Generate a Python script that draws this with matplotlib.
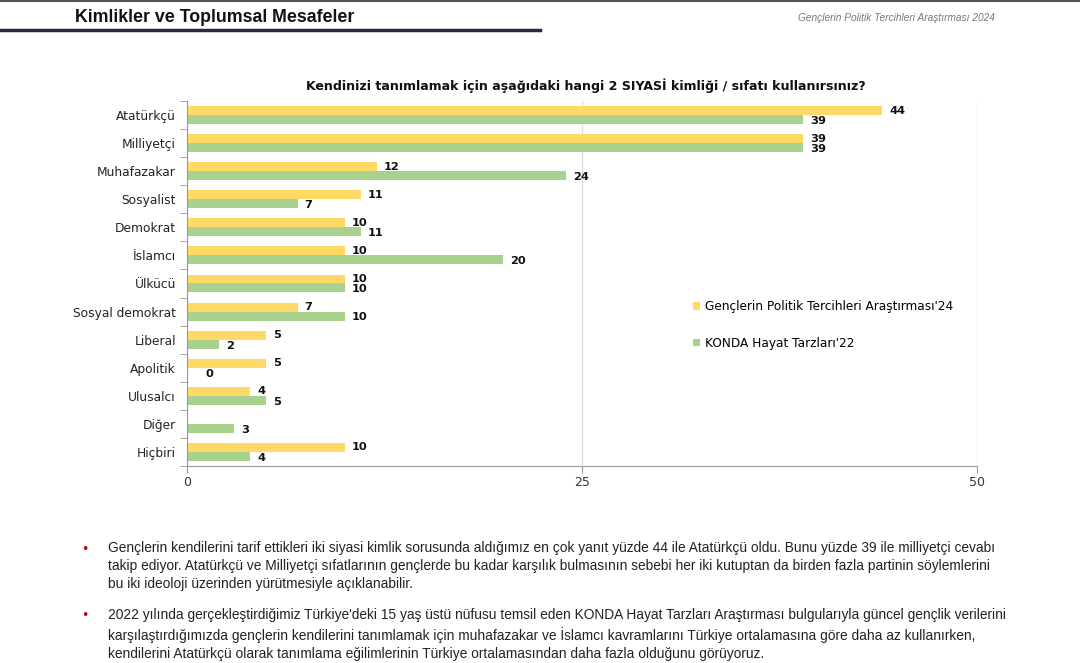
import numpy as np
import matplotlib.pyplot as plt
from matplotlib.lines import Line2D

# --- donnees ---
kategoriler = ['Atatürkçü', 'Milliyetçi', 'Muhafazakar', 'Sosyalist', 'Demokrat',
               'İslamcı', 'Ülkücü', 'Sosyal demokrat', 'Liberal', 'Apolitik',
               'Ulusalcı', 'Diğer', 'Hiçbiri']
genclik_24 = [44, 39, 12, 11, 10, 10, 10, 7, 5, 5, 4, None, 10]
konda_22 = [39, 39, 24, 7, 11, 20, 10, 10, 2, 0, 5, 3, 4]
seri_adlari = ["Gençlerin Politik Tercihleri Araştırması'24", "KONDA Hayat Tarzları'22"]
x_ticks = [0, 25, 50]

SARI = '#FFD966'
YESIL = '#A9D18E'

fig = plt.figure(figsize=(10.8, 6.63), dpi=100)

# --- en-tete ---
fig.add_artist(Line2D([0, 1], [1 - 1 / 663, 1 - 1 / 663], color='#555555', lw=1.5))
fig.text(75 / 1080, 1 - 18 / 663, 'Kimlikler ve Toplumsal Mesafeler', fontsize=12.8,
         fontweight='bold', family='Liberation Sans', va='center', color='#111111')
fig.add_artist(Line2D([0, 540 / 1080], [1 - 30 / 663, 1 - 30 / 663], color='#262b45', lw=2.5))
fig.text(995 / 1080, 1 - 18 / 663, 'Gençlerin Politik Tercihleri Araştırması 2024', fontsize=7.3,
         style='italic', family='Liberation Sans', ha='right', va='center', color='#777777')

# --- graphique ---
ax = fig.add_axes([187 / 1080, 1 - 466 / 663, 790 / 1080, 365 / 663])
n = len(kategoriler)
y = np.arange(n)
h = 0.32
g_vals = np.array([v if v is not None else 0 for v in genclik_24], dtype=float)
k_vals = np.array(konda_22, dtype=float)
ax.barh(y - h / 2, g_vals, height=h, color=SARI, label=seri_adlari[0])
ax.barh(y + h / 2, k_vals, height=h, color=YESIL, label=seri_adlari[1])

for i in range(n):
    if genclik_24[i] is not None:
        ax.text(g_vals[i] + 0.45, y[i] - h / 2, str(genclik_24[i]), va='center', ha='left',
                fontsize=8.2, fontweight='bold', color='#111111')
    ax.text(k_vals[i] + 0.45 + (0.7 if k_vals[i] == 0 else 0), y[i] + h / 2 + 0.05,
            str(konda_22[i]), va='center', ha='left', fontsize=8.2, fontweight='bold', color='#111111')

ax.set_xlim(0, 50)
ax.set_ylim(n - 0.5, -0.5)
ax.set_xticks(x_ticks)
ax.set_xticklabels([str(t) for t in x_ticks], fontsize=9, color='#333333')
ax.set_yticks(y)
ax.set_yticklabels(kategoriler, fontsize=8.8, color='#222222')
ax.tick_params(axis='y', length=0, pad=8)
ax.set_yticks(np.arange(n + 1) - 0.5, minor=True)
ax.tick_params(axis='y', which='minor', length=5, color='#999999')
ax.tick_params(axis='x', length=5, color='#999999', pad=2)
ax.grid(axis='x', color='#dddddd', lw=1)
ax.set_axisbelow(True)
for s in ['top', 'right']:
    ax.spines[s].set_visible(False)
ax.spines['left'].set_color('#999999')
ax.spines['bottom'].set_color('#999999')

ax.set_title('Kendinizi tanımlamak için aşağıdaki hangi 2 SIYASİ kimliği / sıfatı kullanırsınız?',
             fontsize=9.1, fontweight='bold', color='#111111', pad=8, x=0.505)

leg = ax.legend(loc='upper left', bbox_to_anchor=(0.627, 0.484), frameon=False, fontsize=8.7,
                handlelength=0.6, handleheight=0.6, handletextpad=0.4, labelspacing=1.95)

# --- texte ---
madde1 = ('Gençlerin kendilerini tarif ettikleri iki siyasi kimlik sorusunda aldığımız en çok yanıt yüzde 44 ile Atatürkçü oldu. Bunu yüzde 39 ile milliyetçi cevabı\n'
          'takip ediyor. Atatürkçü ve Milliyetçi sıfatlarının gençlerde bu kadar karşılık bulmasının sebebi her iki kutuptan da birden fazla partinin söylemlerini\n'
          'bu iki ideoloji üzerinden yürütmesiyle açıklanabilir.')
madde2 = ("2022 yılında gerçekleştirdiğimiz Türkiye'deki 15 yaş üstü nüfusu temsil eden KONDA Hayat Tarzları Araştırması bulgularıyla güncel gençlik verilerini\n"
          'karşılaştırdığımızda gençlerin kendilerini tanımlamak için muhafazakar ve İslamcı kavramlarını Türkiye ortalamasına göre daha az kullanırken,\n'
          'kendilerini Atatürkçü olarak tanımlama eğilimlerinin Türkiye ortalamasından daha fazla olduğunu görüyoruz.')
for yy, txt in [(541, madde1), (608, madde2)]:
    fig.text(85 / 1080, 1 - (yy + 8) / 663, '•', color='#c00000', fontsize=9, va='center', ha='center')
    fig.text(108 / 1080, 1 - yy / 663, txt, fontsize=9.9, va='top', ha='left', color='#222222',
             family='Liberation Sans', linespacing=1.38)

fig.savefig('out.png', dpi=100)
